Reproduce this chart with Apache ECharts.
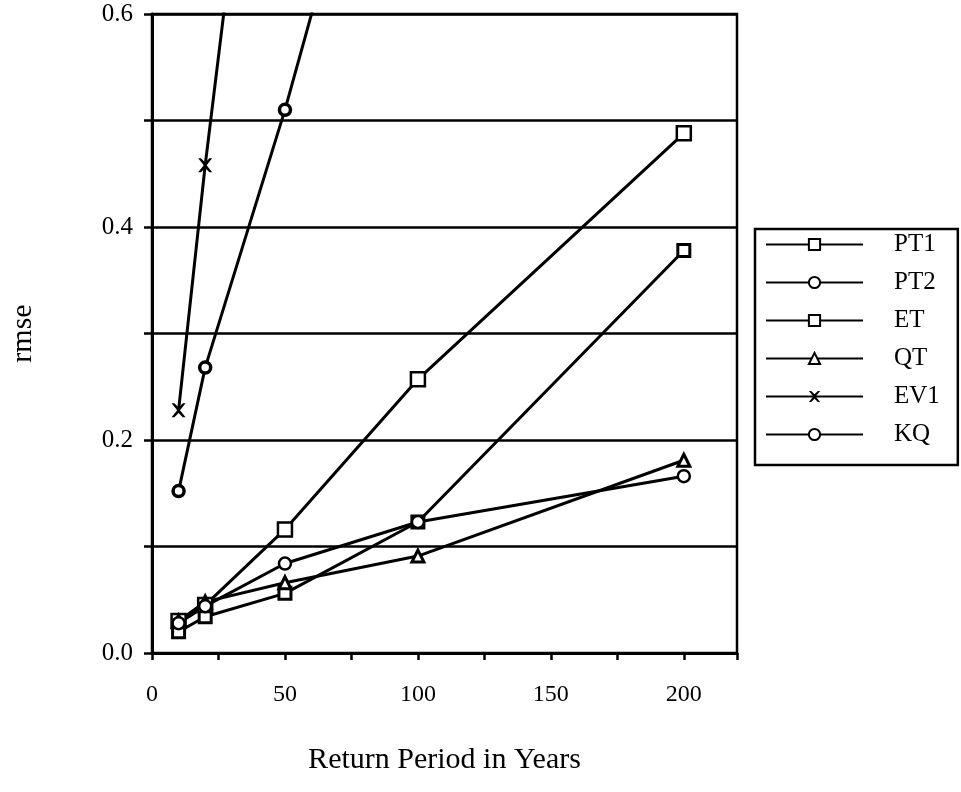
<!DOCTYPE html>
<html>
<head>
<meta charset="utf-8">
<script src="https://cdn.jsdelivr.net/npm/echarts@6/dist/echarts.min.js"></script>
<style>
html,body{margin:0;padding:0;background:#fff;}
#main{width:961px;height:792px;}
</style>
</head>
<body>
<div id="main"></div>
<script>
// return periods (years)
var periods = [10, 20, 50, 100, 200];
var pt1 = [0.020, 0.034, 0.056, 0.123, 0.378];
var pt2 = [0.152, 0.268, 0.510, 0.960];
var et  = [0.030, 0.045, 0.116, 0.257, 0.488];
var qt  = [0.030, 0.048, 0.066, 0.091, 0.181];
var ev1 = [0.228, 0.458, 1.070];
var kq  = [0.028, 0.044, 0.084, 0.123, 0.166];
var yTicks = [0, 0.2, 0.4, 0.6];
var xTicks = [0, 50, 100, 150, 200];

var serif = 'Liberation Serif';
var xMark = 'path://M0,0 L2,0 L5,3 L8,0 L10,0 L6,5 L10,10 L8,10 L5,7 L2,10 L0,10 L4,5 Z';

function pairs(vals){
	var out = [];
	for (var i = 0; i < vals.length; i++) out.push([periods[i], vals[i]]);
	return out;
}

function mk(name, vals, symbol, size, fill, bw){
	return {
		name: name,
		type: 'line',
		data: pairs(vals),
		symbol: symbol,
		symbolSize: size,
		showAllSymbol: true,
		clip: true,
		lineStyle: {color: '#000', width: 3},
		itemStyle: {color: fill, borderColor: '#000', borderWidth: bw},
		emphasis: {disabled: true}
	};
}

var myChart = echarts.init(document.getElementById('main'));

var option = {
	animation: false,
	backgroundColor: '#fff',
	grid: {
		left: 152, right: 224, top: 14, bottom: 139,
		show: true, borderColor: '#000', borderWidth: 2.5
	},
	legend: {
		orient: 'vertical',
		left: 755, top: 229,
		padding: [3, 18, 18, 10],
		itemWidth: 97,
		itemHeight: 14,
		itemGap: 13,
		borderColor: '#000',
		borderWidth: 2.5,
		textStyle: {fontFamily: serif, fontSize: 25, color: '#000', padding: [0, 0, 0, 26]},
		data: ['PT1', 'PT2', 'ET', 'QT', 'EV1', 'KQ']
	},
	xAxis: {
		type: 'value',
		min: 0, max: 220, interval: 25,
		name: 'Return Period in Years',
		nameLocation: 'middle',
		nameGap: 92,
		nameTextStyle: {fontFamily: serif, fontSize: 30, color: '#000'},
		axisLine: {lineStyle: {color: '#000', width: 3}},
		axisTick: {show: true, inside: false, length: 7, lineStyle: {color: '#000', width: 2.5}},
		axisLabel: {
			fontFamily: serif, fontSize: 24, color: '#000', margin: 30,
			formatter: function(v){ return xTicks.indexOf(v) >= 0 ? String(v) : ''; }
		},
		splitLine: {show: false}
	},
	yAxis: {
		type: 'value',
		min: 0, max: 0.6, interval: 0.1,
		name: 'rmse',
		nameLocation: 'middle',
		nameGap: 114,
		nameTextStyle: {fontFamily: serif, fontSize: 30, color: '#000'},
		axisLine: {lineStyle: {color: '#000', width: 3}},
		axisTick: {show: true, inside: false, length: 8, lineStyle: {color: '#000', width: 2.5}},
		axisLabel: {
			fontFamily: serif, fontSize: 25, color: '#000', margin: 19,
			formatter: function(v){
				for (var i = 0; i < yTicks.length; i++) {
					if (Math.abs(v - yTicks[i]) < 1e-6) return v.toFixed(1);
				}
				return '';
			}
		},
		splitLine: {show: true, lineStyle: {color: '#000', width: 2.5}}
	},
	series: [
		mk('PT1', pt1, 'rect', 12, '#fff', 3),
		mk('PT2', pt2, 'circle', 11, '#fff', 3.5),
		mk('ET', et, 'rect', 14, '#fff', 2.5),
		mk('QT', qt, 'triangle', 12, '#fff', 3),
		mk('EV1', ev1, xMark, 14, '#000', 0),
		mk('KQ', kq, 'circle', 12, '#fff', 2.5)
	]
};

myChart.setOption(option);
</script>
</body>
</html>
